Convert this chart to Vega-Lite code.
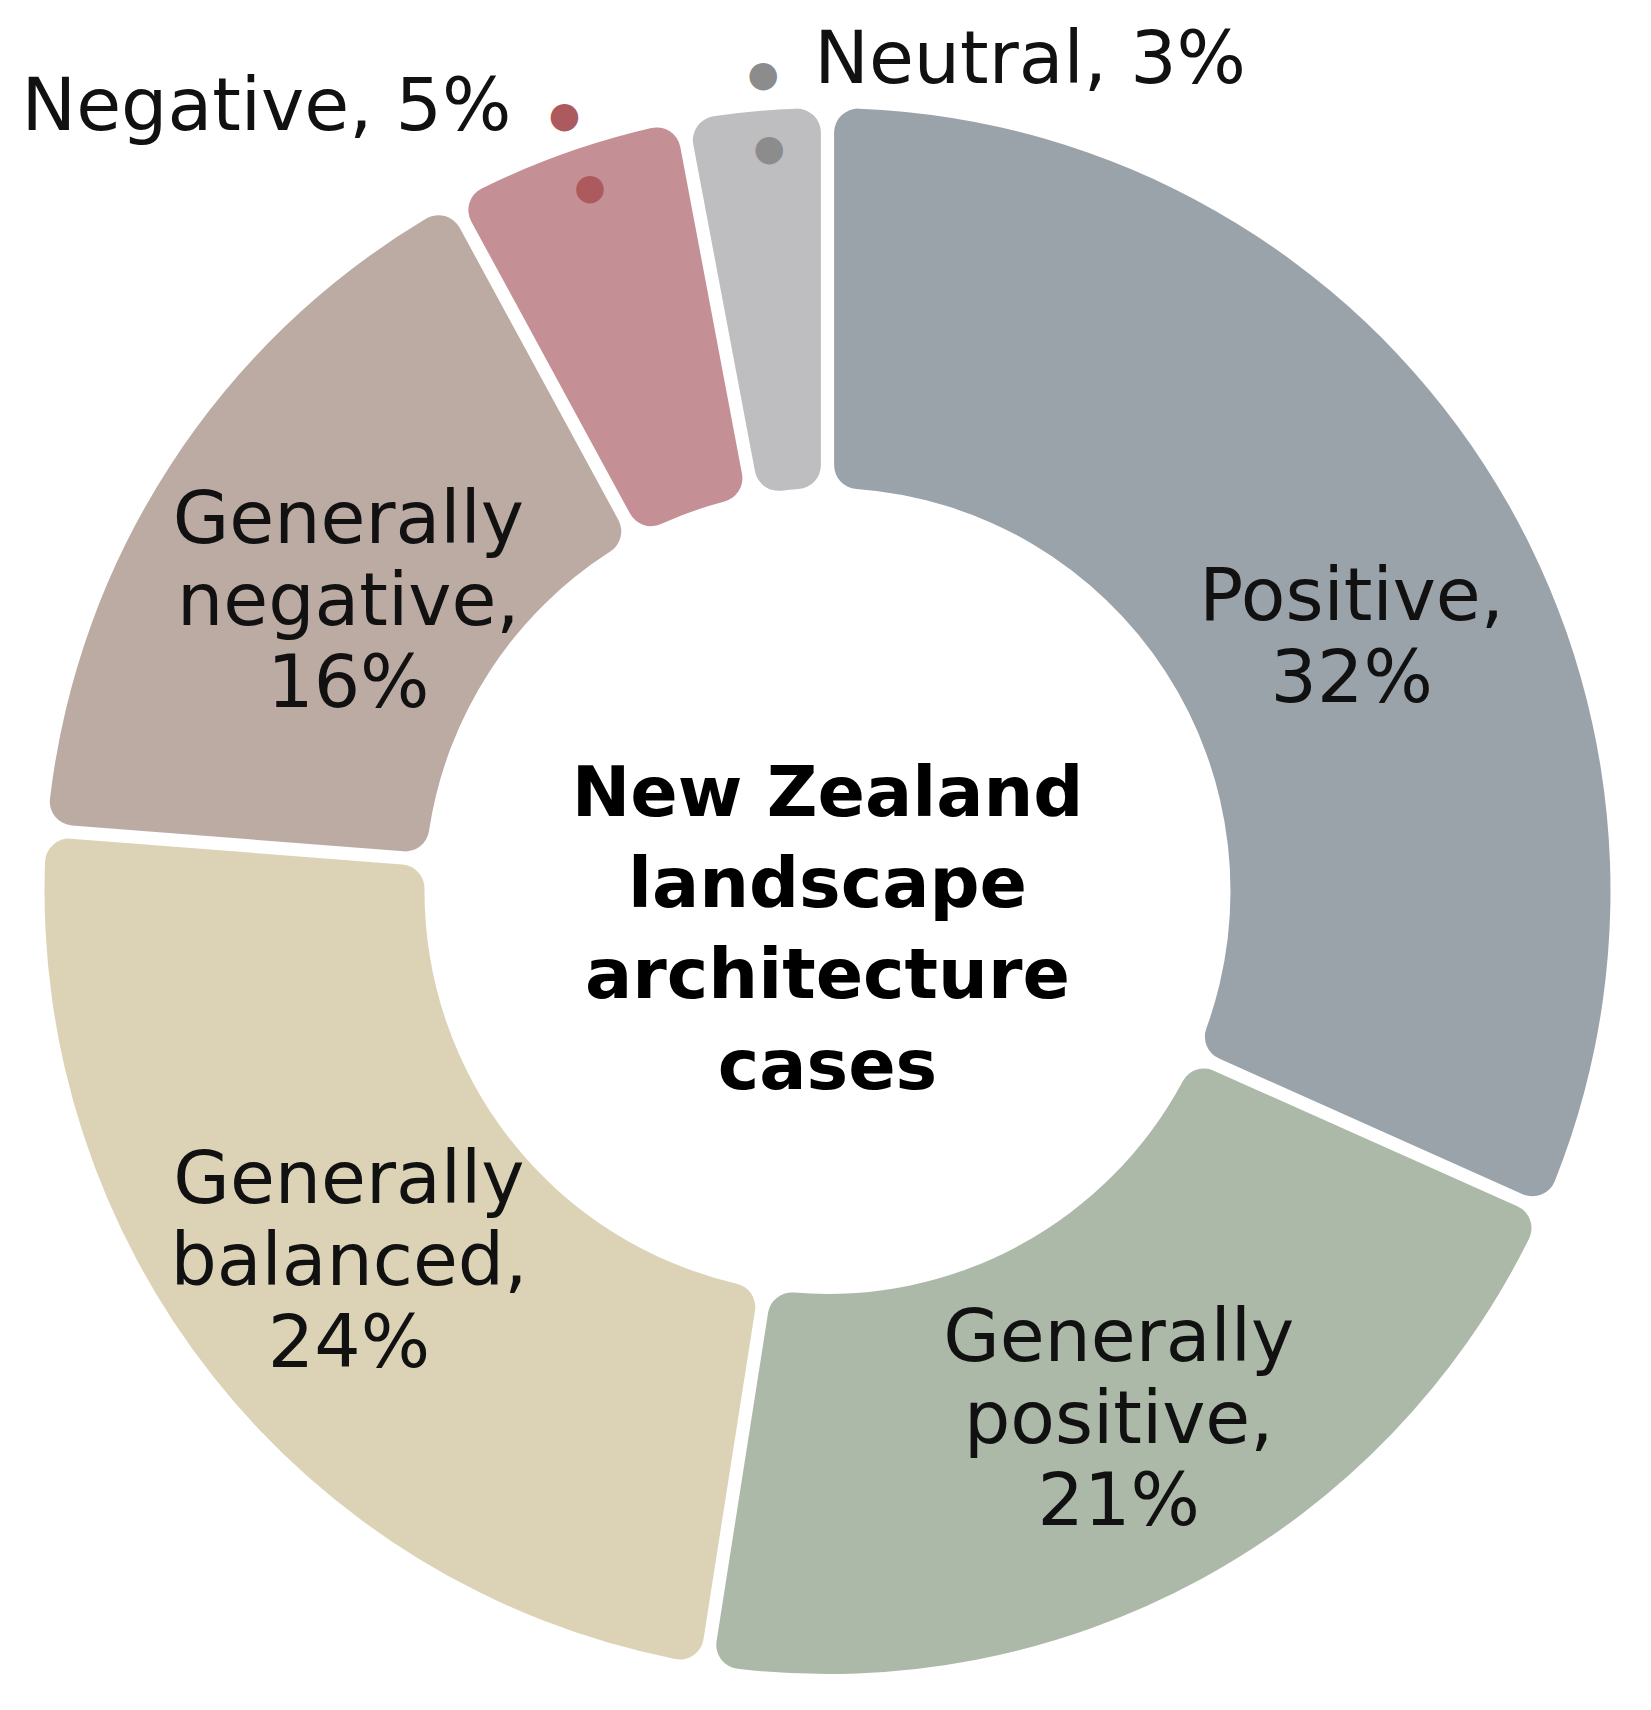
{
  "$schema": "https://vega.github.io/schema/vega-lite/v6.json",
  "width": 1651,
  "height": 1638,
  "autosize": "none",
  "padding": {"top": 72, "left": 2, "right": 0, "bottom": 0},
  "background": "white",
  "config": {"view": {"stroke": null}},
  "datasets": {
    "slices": [
      {"category": "Positive", "value": 32, "order": 1, "label": "Positive,\n32%"},
      {"category": "Generally positive", "value": 21, "order": 2, "label": "Generally\npositive,\n21%"},
      {"category": "Generally balanced", "value": 24, "order": 3, "label": "Generally\nbalanced,\n24%"},
      {"category": "Generally negative", "value": 16, "order": 4, "label": "Generally\nnegative,\n16%"},
      {"category": "Negative", "value": 5, "order": 5, "label": "Negative, 5%"},
      {"category": "Neutral", "value": 3, "order": 6, "label": "Neutral, 3%"}
    ],
    "center": [
      {"title": "New Zealand\nlandscape\narchitecture\ncases"}
    ]
  },
  "layer": [
    {
      "data": {"name": "slices"},
      "mark": {"type": "arc", "innerRadius": 403, "outerRadius": 783, "cornerRadius": 24, "padAngle": 0.015},
      "encoding": {
        "theta": {"field": "value", "type": "quantitative", "stack": true},
        "order": {"field": "order", "type": "quantitative"},
        "color": {
          "field": "category",
          "type": "nominal",
          "legend": null,
          "scale": {
            "domain": ["Positive", "Generally positive", "Generally balanced", "Generally negative", "Negative", "Neutral"],
            "range": ["#9BA3AA", "#ADB9A8", "#DCD3B7", "#BCABA3", "#C59095", "#BEBDBF"]
          }
        }
      }
    },
    {
      "data": {"name": "slices"},
      "mark": {"type": "text", "font": "DejaVu Sans", "fontSize": 73, "lineBreak": "\n", "lineHeight": 82, "align": "center", "baseline": "middle", "color": "#111111", "radius": 610, "dy": -88},
      "encoding": {
        "theta": {"field": "value", "type": "quantitative", "stack": true},
        "order": {"field": "order", "type": "quantitative"},
        "text": {"condition": {"test": "datum.category === 'Generally positive' || datum.category === 'Generally balanced'", "field": "label"}, "value": ""}
      }
    },
    {
      "data": {"name": "slices"},
      "mark": {"type": "text", "font": "DejaVu Sans", "fontSize": 73, "lineBreak": "\n", "lineHeight": 82, "align": "center", "baseline": "middle", "color": "#111111", "radius": 595, "dx": 25, "dy": 31},
      "encoding": {
        "theta": {"field": "value", "type": "quantitative", "stack": true},
        "order": {"field": "order", "type": "quantitative"},
        "text": {"condition": {"test": "datum.category === 'Positive'", "field": "label"}, "value": ""}
      }
    },
    {
      "data": {"name": "slices"},
      "mark": {"type": "text", "font": "DejaVu Sans", "fontSize": 73, "lineBreak": "\n", "lineHeight": 82, "align": "center", "baseline": "middle", "color": "#111111", "radius": 595, "dx": 20, "dy": -46},
      "encoding": {
        "theta": {"field": "value", "type": "quantitative", "stack": true},
        "order": {"field": "order", "type": "quantitative"},
        "text": {"condition": {"test": "datum.category === 'Generally negative'", "field": "label"}, "value": ""}
      }
    },
    {
      "data": {"name": "slices"},
      "mark": {"type": "text", "font": "DejaVu Sans", "fontSize": 73, "align": "right", "baseline": "middle", "color": "#111111", "radius": 817, "dx": -42, "dy": -13},
      "encoding": {
        "theta": {"field": "value", "type": "quantitative", "stack": true},
        "order": {"field": "order", "type": "quantitative"},
        "text": {"condition": {"test": "datum.category === 'Negative'", "field": "label"}, "value": ""}
      }
    },
    {
      "data": {"name": "slices"},
      "mark": {"type": "text", "font": "DejaVu Sans", "fontSize": 73, "align": "left", "baseline": "middle", "color": "#111111", "radius": 818, "dx": 63, "dy": -16},
      "encoding": {
        "theta": {"field": "value", "type": "quantitative", "stack": true},
        "order": {"field": "order", "type": "quantitative"},
        "text": {"condition": {"test": "datum.category === 'Neutral'", "field": "label"}, "value": ""}
      }
    },
    {
      "data": {"name": "slices"},
      "mark": {"type": "text", "font": "DejaVu Sans", "fontSize": 36, "align": "center", "baseline": "middle", "color": "#AD5A5E", "radius": 817, "dx": 11, "dy": -5},
      "encoding": {
        "theta": {"field": "value", "type": "quantitative", "stack": true},
        "order": {"field": "order", "type": "quantitative"},
        "text": {"condition": {"test": "datum.category === 'Negative'", "value": "●"}, "value": ""}
      }
    },
    {
      "data": {"name": "slices"},
      "mark": {"type": "text", "font": "DejaVu Sans", "fontSize": 36, "align": "center", "baseline": "middle", "color": "#AD5A5E", "radius": 741, "dx": 11, "dy": -5},
      "encoding": {
        "theta": {"field": "value", "type": "quantitative", "stack": true},
        "order": {"field": "order", "type": "quantitative"},
        "text": {"condition": {"test": "datum.category === 'Negative'", "value": "●"}, "value": ""}
      }
    },
    {
      "data": {"name": "slices"},
      "mark": {"type": "text", "font": "DejaVu Sans", "fontSize": 36, "align": "center", "baseline": "middle", "color": "#8C8C8C", "radius": 818, "dx": 12, "dy": -2},
      "encoding": {
        "theta": {"field": "value", "type": "quantitative", "stack": true},
        "order": {"field": "order", "type": "quantitative"},
        "text": {"condition": {"test": "datum.category === 'Neutral'", "value": "●"}, "value": ""}
      }
    },
    {
      "data": {"name": "slices"},
      "mark": {"type": "text", "font": "DejaVu Sans", "fontSize": 36, "align": "center", "baseline": "middle", "color": "#8C8C8C", "radius": 743, "dx": 11, "dy": -2},
      "encoding": {
        "theta": {"field": "value", "type": "quantitative", "stack": true},
        "order": {"field": "order", "type": "quantitative"},
        "text": {"condition": {"test": "datum.category === 'Neutral'", "value": "●"}, "value": ""}
      }
    },
    {
      "data": {"name": "center"},
      "mark": {"type": "text", "font": "DejaVu Sans", "fontWeight": "bold", "fontSize": 70, "lineBreak": "\n", "lineHeight": 91, "align": "center", "baseline": "middle", "color": "#000000", "dy": -96},
      "encoding": {
        "text": {"field": "title", "type": "nominal"}
      }
    }
  ]
}
